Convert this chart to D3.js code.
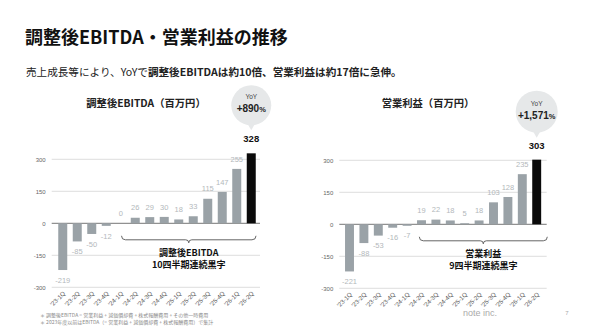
<!DOCTYPE html>
<html><head><meta charset="utf-8">
<script src="https://cdn.jsdelivr.net/npm/d3@7"></script>
<style>
html,body{margin:0;padding:0;background:#fff;}
svg{display:block;}
</style></head>
<body>
<svg id="c" width="590" height="331"></svg>
<script>
const quarters = ["'23-1Q","'23-2Q","'23-3Q","'23-4Q","'24-1Q","'24-2Q","'24-3Q","'24-4Q","'25-1Q","'25-2Q","'25-3Q","'25-4Q","'26-1Q","'26-2Q"];
const ebitda = [-219,-85,-50,-12,0,26,29,30,18,33,115,147,255,328];
const opIncome = [-221,-88,-53,-16,-7,19,22,18,5,18,103,128,235,303];
const yTicks = [300,150,0,-150,-300];
const titleText = "調整後EBITDA・営業利益の推移";
const ebitdaTitle = "調整後EBITDA（百万円）";
const opTitle = "営業利益（百万円）";
const ebitdaYoY = "+890";
const opYoY = "+1,571";
const ebitdaBrace = ["調整後EBITDA","10四半期連続黒字"];
const opBrace = ["営業利益","9四半期連続黒字"];
const footnotes = ["＊ 調整後EBITDA = 営業利益 + 減価償却費 + 株式報酬費用 + その他一時費用","＊ 2023年度以前はEBITDA（= 営業利益 + 減価償却費 + 株式報酬費用）で集計"];

const svg = d3.select("#c");
const JP = "'Noto Sans CJK JP','Noto Sans',sans-serif";
const NUM = "'Liberation Sans',Arial,sans-serif";

svg.append("text").attr("x",25).attr("y",44).attr("font-family",JP).attr("font-weight",700)
  .attr("font-size",18).attr("fill","#111").text(titleText);

const sub = svg.append("text").attr("x",26).attr("y",76).attr("font-family",JP)
  .attr("font-size",10.6).attr("fill","#222");
sub.append("tspan").text("売上成長等により、YoYで");
sub.append("tspan").attr("font-weight",700).text("調整後EBITDAは約10倍、営業利益は約17倍に急伸。");

function panel(cfg){
  const g = svg.append("g");
  const x = d3.scaleBand().domain(quarters).range([cfg.x0, cfg.x1]).paddingInner(0.38).paddingOuter(0.19);
  const y = d3.scaleLinear().domain([-300,300]).range([cfg.y0 + 64, cfg.y0 - 64]);
  yTicks.forEach(t=>{
    g.append("line").attr("x1",cfg.gx0).attr("x2",cfg.gx1).attr("y1",y(t)).attr("y2",y(t))
      .attr("stroke", t===0 ? "#666" : "#d4d4d4").attr("stroke-width", t===0?0.9:0.8);
    g.append("text").attr("x",cfg.gx0-6).attr("y",y(t)+2.2).attr("text-anchor","end")
      .attr("font-family",NUM).attr("font-size",6).attr("fill","#666").text(t);
  });
  const n = quarters.length;
  cfg.values.forEach((v,i)=>{
    const q = quarters[i];
    const last = i===n-1;
    g.append("rect").attr("x",x(q)).attr("width",x.bandwidth())
      .attr("y",Math.min(y(v),y(0))).attr("height",Math.abs(y(v)-y(0)))
      .attr("fill", last ? "#0a0a0a" : "#9aa2a7");
    const cx = x(q)+x.bandwidth()/2;
    if(!last){
      g.append("text").attr("x",cx).attr("y", v>=0 ? y(v)-10+2.7 : y(v)+10+2.7)
        .attr("text-anchor","middle").attr("font-family",NUM).attr("font-size",7.5)
        .attr("fill","#b3b8bb").text(v);
    } else {
      g.append("text").attr("x",cx).attr("y",y(v)-11).attr("text-anchor","middle")
        .attr("font-family",NUM).attr("font-weight",700).attr("font-size",9.5).attr("fill","#111").text(v);
      const by = y(v)-48, r = cfg.r;
      g.append("path").attr("d",`M${cx-4},${by+r-2} L${cx},${by+r+5} L${cx+4},${by+r-2} Z`).attr("fill","#e6e8e9");
      g.append("circle").attr("cx",cx).attr("cy",by).attr("r",r).attr("fill","#e6e8e9");
      g.append("text").attr("x",cx).attr("y",by-6).attr("text-anchor","middle").attr("font-family",NUM)
        .attr("font-size",6.5).attr("fill","#444").text("YoY");
      const t = g.append("text").attr("x",cx).attr("y",by+7).attr("text-anchor","middle").attr("font-family",NUM)
        .attr("font-weight",700).attr("fill","#222");
      t.append("tspan").attr("font-size",10).text(cfg.yoy);
      t.append("tspan").attr("font-size",7.5).text("%");
    }
    g.append("text").attr("transform",`translate(${cx+3},${y(-300)+6.5}) rotate(-45)`)
      .attr("text-anchor","end").attr("font-family",NUM).attr("font-size",6.2).attr("fill","#555").text(q);
  });
  g.append("text").attr("x",cfg.tx).attr("y",107).attr("text-anchor","middle").attr("font-family",JP)
    .attr("font-weight",700).attr("font-size",10.3).attr("fill","#222").text(cfg.title);
  const bx0 = cfg.bx0, bx1 = cfg.bx1, bm = (bx0+bx1)/2, bt = y(0)+12.5;
  g.append("path").attr("d",
    `M${bx0},${bt} Q${bx0},${bt+4} ${bx0+4},${bt+4} L${bm-3},${bt+4} Q${bm},${bt+4} ${bm},${bt+7} Q${bm},${bt+4} ${bm+3},${bt+4} L${bx1-4},${bt+4} Q${bx1},${bt+4} ${bx1},${bt}`)
    .attr("fill","none").attr("stroke","#555").attr("stroke-width",0.9);
  cfg.brace.forEach((s,k)=>{
    g.append("text").attr("x",bm).attr("y",bt+20.5+k*11.5).attr("text-anchor","middle").attr("font-family",JP)
      .attr("font-weight",700).attr("font-size",9).attr("fill","#111").text(s);
  });
}

panel({values:ebitda, x0:55.5, x1:258.5, y0:223.3, gx0:51.7, gx1:260, r:20, yoy:ebitdaYoY, title:ebitdaTitle, tx:146,
  bx0:121.5, bx1:256, brace:ebitdaBrace});
panel({values:opIncome, x0:342.3, x1:543.9, y0:224.3, gx0:339.3, gx1:546.7, r:21, yoy:opYoY, title:opTitle, tx:428,
  bx0:419.3, bx1:547.3, brace:opBrace});

footnotes.forEach((f,i)=>{
  svg.append("text").attr("x",40).attr("y",316.5+i*7).attr("font-family",JP).attr("font-size",5)
    .attr("fill","#8a8a8a").text(f);
});
svg.append("text").attr("x",480).attr("y",316).attr("text-anchor","middle").attr("font-family",NUM)
  .attr("font-size",9).attr("fill","#aaa").text("note inc.");
svg.append("text").attr("x",567).attr("y",315).attr("text-anchor","middle").attr("font-family",NUM)
  .attr("font-size",6).attr("fill","#aaa").text("7");
</script>
</body></html>
